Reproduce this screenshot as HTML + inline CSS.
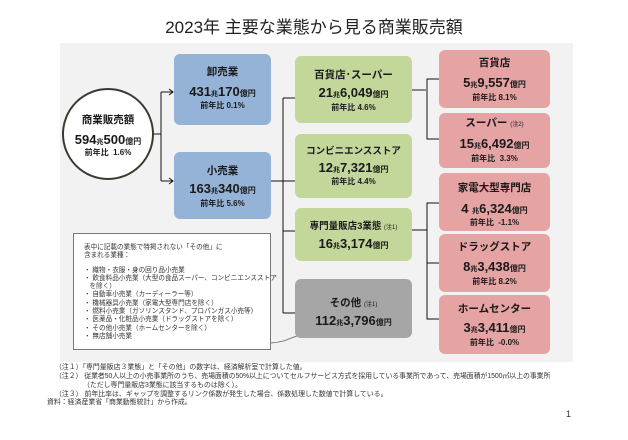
<!DOCTYPE html>
<html><head><meta charset="utf-8">
<style>
*{margin:0;padding:0;box-sizing:border-box}
html,body{width:628px;height:440px;background:#fff;overflow:hidden}
body{position:relative;font-family:"Liberation Sans","Noto Sans CJK JP",sans-serif;color:#1a1a1a}
.abs{position:absolute}
.panel{left:60px;top:43px;width:513px;height:319px;background:#f2f2f2}
.box{position:absolute;border-radius:6px}
.blue{background:#95b3d7}
.green{background:#c4d79b}
.pink{background:#e6a3a4}
.gray{background:#a6a6a6}
.t{position:absolute;left:0;right:0;text-align:center;white-space:nowrap;line-height:1}
.h{font-size:10.5px;font-weight:bold}
.v{font-size:13px;font-weight:bold}
.v .s{font-size:7px}
.v .y{font-size:8px}
.p{font-size:8px;font-weight:bold}
.n{font-size:6px;font-weight:normal}
.note{left:73px;top:233px;width:198px;height:117px;background:#fff;border:1px solid #777;font-size:6.6px;line-height:8.3px;color:#333;padding:10px 0 0 10px;white-space:nowrap}
.foot{font-size:6.9px;color:#333;white-space:nowrap;line-height:1}
</style></head><body>
<div class="abs" style="left:0;top:19px;width:628px;text-align:center;font-size:17px;color:#222;line-height:1;white-space:nowrap">2023年 主要な業態から見る商業販売額</div>
<div class="abs panel"></div>

<svg class="abs" style="left:0;top:0" width="628" height="440">
 <g stroke="#111" stroke-width="1" fill="none">
  <path d="M153 134 H161 M161 92 V181 M161 92 H173 M161 181 H173"/>
  <path d="M169 89 L173 92 L169 95 M169 178 L173 181 L169 184"/>
  <path d="M271 181 H283 M283 98 V313 M283 98 H295 M283 181 H295 M283 231 H295 M283 313 H295"/>
  <path d="M439 79 H427 V139 H439"/>
  <path d="M412 230 H427 M439 203 H427 V319 H439 M427 263 H439"/>
 </g>
 <path d="M412 90 H427" stroke="#888" stroke-width="2"/>
 <path d="M271 343 C285 342 290 338 297 336" stroke="#777" stroke-width="1" fill="none"/>
 <ellipse cx="108" cy="134" rx="45" ry="45" fill="#fff" stroke="#3a3a30" stroke-width="2"/>
</svg>

<div class="abs" style="left:63px;top:90px;width:90px;height:90px">
 <div class="t h" style="top:25px">商業販売額</div>
 <div class="t v" style="top:43px">594<span class="s">兆</span>500<span class="y">億円</span></div>
 <div class="t p" style="top:59px">前年比&nbsp; 1.6%</div>
</div>

<div class="box blue" style="left:174px;top:54px;width:97px;height:71px">
 <div class="t h" style="top:13px">卸売業</div>
 <div class="t v" style="top:31px">431<span class="s">兆</span>170<span class="y">億円</span></div>
 <div class="t p" style="top:48px">前年比 0.1%</div>
</div>
<div class="box blue" style="left:174px;top:152px;width:97px;height:67px">
 <div class="t h" style="top:14px">小売業</div>
 <div class="t v" style="top:30px">163<span class="s">兆</span>340<span class="y">億円</span></div>
 <div class="t p" style="top:48px">前年比 5.6%</div>
</div>

<div class="box green" style="left:295px;top:56px;width:117px;height:67px">
 <div class="t h" style="top:14px">百貨店･スーパー</div>
 <div class="t v" style="top:30px">21<span class="s">兆</span>6,049<span class="y">億円</span></div>
 <div class="t p" style="top:48px">前年比 4.6%</div>
</div>
<div class="box green" style="left:295px;top:134px;width:117px;height:64px">
 <div class="t h" style="top:13px;font-size:9.5px">コンビニエンスストア</div>
 <div class="t v" style="top:27px">12<span class="s">兆</span>7,321<span class="y">億円</span></div>
 <div class="t p" style="top:44px">前年比 4.4%</div>
</div>
<div class="box green" style="left:295px;top:208px;width:117px;height:53px">
 <div class="t h" style="top:14px;font-size:9.5px">専門量販店3業態 <span class="n">(注1)</span></div>
 <div class="t v" style="top:29px">16<span class="s">兆</span>3,174<span class="y">億円</span></div>
</div>
<div class="box gray" style="left:295px;top:279px;width:117px;height:59px">
 <div class="t h" style="top:19px">その他 <span class="n">(注1)</span></div>
 <div class="t v" style="top:35px">112<span class="s">兆</span>3,796<span class="y">億円</span></div>
</div>

<div class="box pink" style="left:439px;top:50px;width:111px;height:58px">
 <div class="t h" style="top:8px">百貨店</div>
 <div class="t v" style="top:26px">5<span class="s">兆</span>9,557<span class="y">億円</span></div>
 <div class="t p" style="top:44px">前年比 8.1%</div>
</div>
<div class="box pink" style="left:439px;top:113px;width:111px;height:55px">
 <div class="t h" style="top:5px">スーパー <span class="n">(注2)</span></div>
 <div class="t v" style="top:24px">15<span class="s">兆</span>6,492<span class="y">億円</span></div>
 <div class="t p" style="top:42px">前年比&nbsp; 3.3%</div>
</div>
<div class="box pink" style="left:439px;top:173px;width:111px;height:58px">
 <div class="t h" style="top:10px">家電大型専門店</div>
 <div class="t v" style="top:29px">4 <span class="s">兆</span>6,324<span class="y">億円</span></div>
 <div class="t p" style="top:46px">前年比&nbsp; -1.1%</div>
</div>
<div class="box pink" style="left:439px;top:234px;width:111px;height:58px">
 <div class="t h" style="top:8px">ドラッグストア</div>
 <div class="t v" style="top:26px">8<span class="s">兆</span>3,438<span class="y">億円</span></div>
 <div class="t p" style="top:44px">前年比 8.2%</div>
</div>
<div class="box pink" style="left:439px;top:295px;width:111px;height:59px">
 <div class="t h" style="top:9px">ホームセンター</div>
 <div class="t v" style="top:26px">3<span class="s">兆</span>3,411<span class="y">億円</span></div>
 <div class="t p" style="top:44px">前年比&nbsp; -0.0%</div>
</div>

<div class="abs note">表中に記載の業態で特掲されない「その他」に<br>含まれる業種：<br><div style="height:6px"></div>・ 織物・衣服・身の回り品小売業<br>・ 飲食料品小売業（大型の食品スーパー、コンビニエンスストア<br>&nbsp;&nbsp;&nbsp;を除く）<br>・ 自動車小売業（カーディーラー等）<br>・ 機械器具小売業（家電大型専門店を除く）<br>・ 燃料小売業（ガソリンスタンド、プロパンガス小売等）<br>・ 医薬品・化粧品小売業（ドラッグストアを除く）<br>・ その他小売業（ホームセンターを除く）<br>・ 無店舗小売業</div>

<div class="abs foot" style="left:55px;top:365px">（注１）「専門量販店３業態」と「その他」の数字は、経済解析室で計算した値。</div>
<div class="abs foot" style="left:55px;top:374px;letter-spacing:-0.05px">（注２） 従業者50人以上の小売事業所のうち、売場面積の50%以上についてセルフサービス方式を採用している事業所であって、売場面積が1500㎡以上の事業所</div>
<div class="abs foot" style="left:83px;top:383px">（ただし専門量販店3業態に該当するものは除く）。</div>
<div class="abs foot" style="left:55px;top:392px">（注３） 前年比率は、ギャップを調整するリンク係数が発生した場合、係数処理した数値で計算している。</div>
<div class="abs foot" style="left:47px;top:400px">資料：経済産業省「商業動態統計」から作成。</div>
<div class="abs foot" style="left:566px;top:410px;font-size:9px">1</div>
</body></html>
